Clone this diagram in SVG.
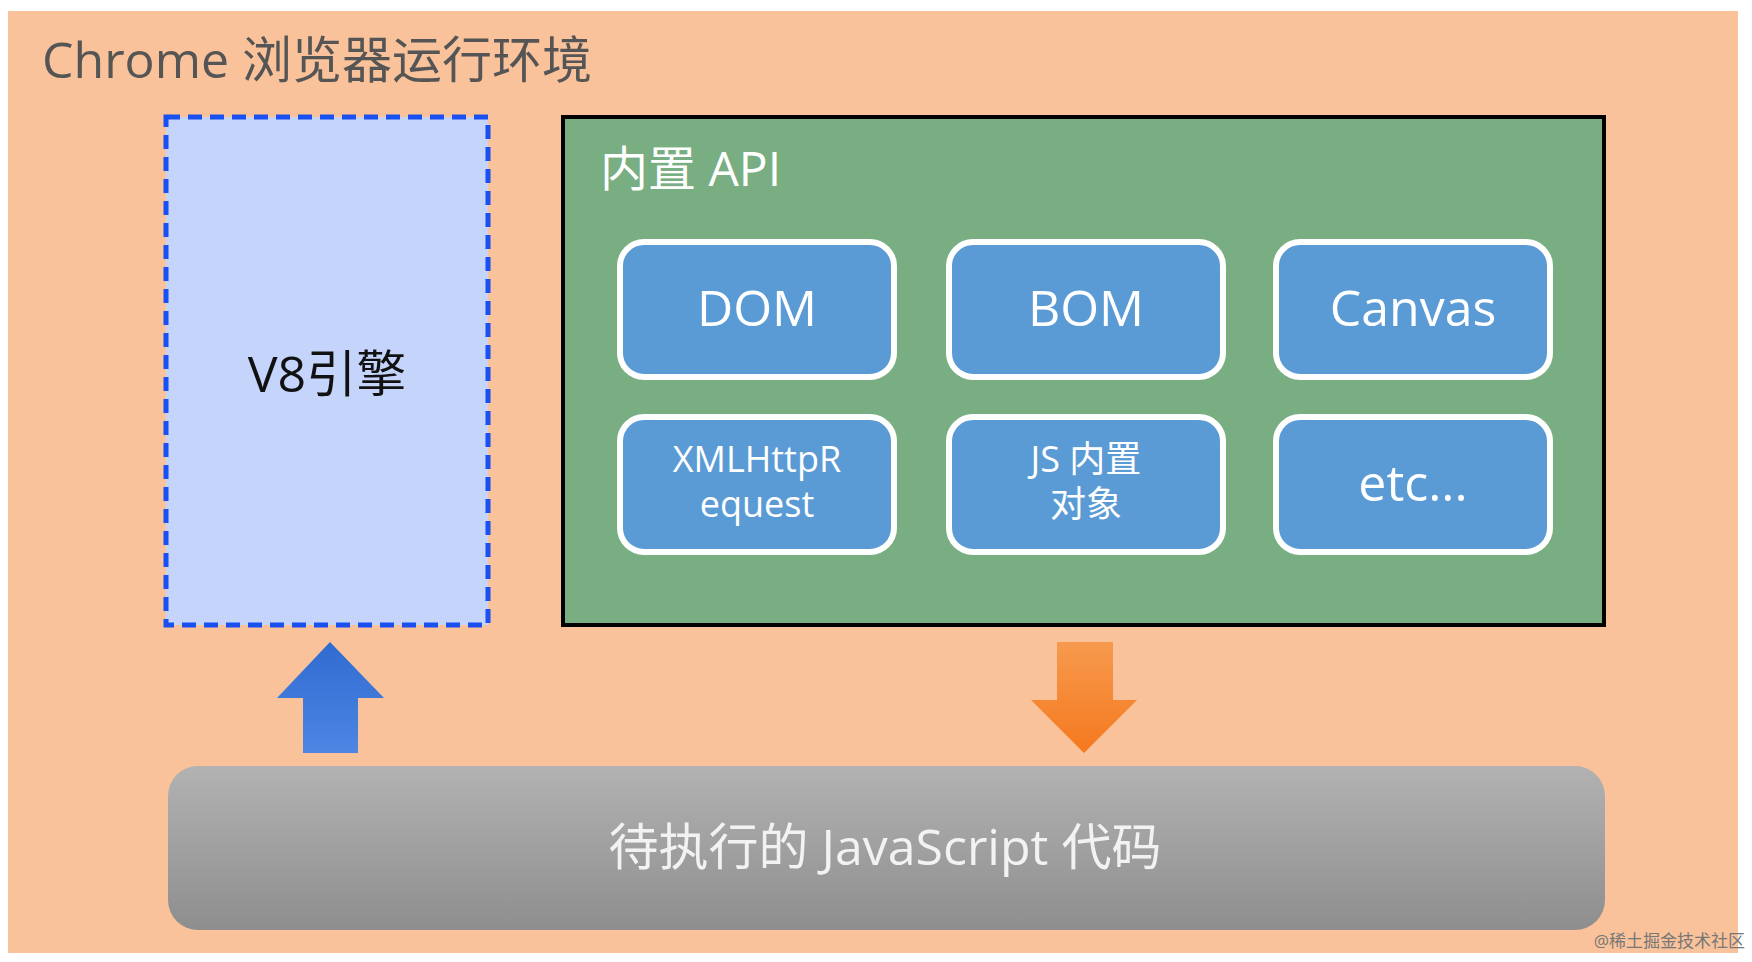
<svg xmlns="http://www.w3.org/2000/svg" width="1752" height="962" viewBox="0 0 1752 962">
<defs>
<style>
text{font-family:"Open Sans","Noto Sans CJK SC",sans-serif}
.btn{fill:#5b9bd5;stroke:#fff;stroke-width:6}
.bt{fill:#fff;text-anchor:middle}
</style>
<linearGradient id="gg" x1="0" y1="0" x2="0" y2="1"><stop offset="0" stop-color="#b2b2b2"/><stop offset="1" stop-color="#8e8e8e"/></linearGradient>
<linearGradient id="bg" x1="0" y1="0" x2="0" y2="1"><stop offset="0" stop-color="#2f6bd0"/><stop offset="1" stop-color="#4d86e3"/></linearGradient>
<linearGradient id="og" x1="0" y1="0" x2="0" y2="1"><stop offset="0" stop-color="#f79a4e"/><stop offset="1" stop-color="#f5781e"/></linearGradient>
</defs>
<rect width="1752" height="962" fill="#fff"/>
<rect x="8" y="11" width="1730" height="942" fill="#f9c29a"/>
<text x="42" y="78" font-size="50" fill="#555">Chrome 浏览器运行环境</text>
<g id="v8"><rect x="166" y="117" width="322" height="508" fill="#c4d4fb" stroke="#1a4ff0" stroke-width="5" stroke-dasharray="14 8"/>
<text x="327" y="392" font-size="50" fill="#111" text-anchor="middle">V8引擎</text></g>
<g id="api"><rect x="563" y="117" width="1041" height="508" fill="#78ae81" stroke="#000" stroke-width="4"/>
<text x="600" y="186" font-size="48" fill="#fff">内置 API</text></g>
<g id="dom"><rect class="btn" x="620" y="242" width="274" height="135" rx="24"/><text class="bt" x="757" y="326" font-size="50">DOM</text></g>
<g id="bom"><rect class="btn" x="949" y="242" width="274" height="135" rx="24"/><text class="bt" x="1086" y="326" font-size="50">BOM</text></g>
<g id="canvas"><rect class="btn" x="1276" y="242" width="274" height="135" rx="24"/><text class="bt" x="1413" y="326" font-size="50">Canvas</text></g>
<g id="xhr"><rect class="btn" x="620" y="417" width="274" height="135" rx="24"/><text class="bt" x="757" y="472" font-size="36">XMLHttpR</text><text class="bt" x="757" y="517" font-size="36">equest</text></g>
<g id="js"><rect class="btn" x="949" y="417" width="274" height="135" rx="24"/><text class="bt" x="1086" y="472" font-size="36">JS 内置</text><text class="bt" x="1086" y="517" font-size="36">对象</text></g>
<g id="etc"><rect class="btn" x="1276" y="417" width="274" height="135" rx="24"/><text class="bt" x="1413" y="501" font-size="50">etc...</text></g>
<g id="connectors">
<polygon points="330,642 384,698 358,698 358,753 303,753 303,698 277,698" fill="url(#bg)"/>
<polygon points="1057,642 1113,642 1113,700 1137,700 1084,753 1031,700 1057,700" fill="url(#og)"/>
</g>
<g id="code"><rect x="168" y="766" width="1437" height="164" rx="30" fill="url(#gg)"/>
<text x="885" y="865" font-size="50" fill="#f2f2f2" text-anchor="middle">待执行的 JavaScript 代码</text></g>
<text x="1745" y="947" font-size="17" fill="#777" text-anchor="end">@稀土掘金技术社区</text>
</svg>
